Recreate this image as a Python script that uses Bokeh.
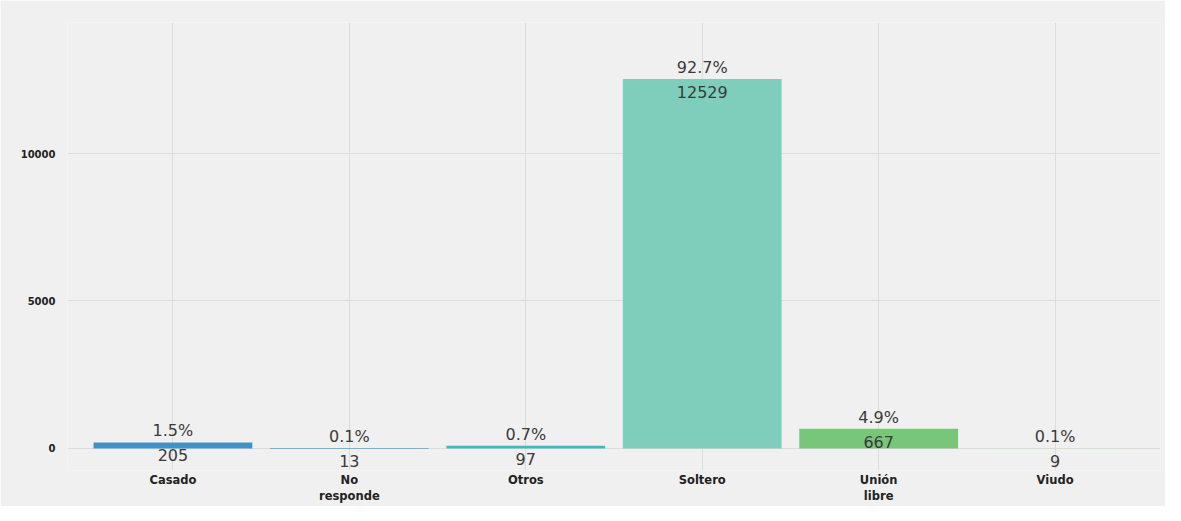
from bokeh.plotting import figure
from bokeh.models import ColumnDataSource, FactorRange, Range1d, FixedTicker
from bokeh.core.properties import value
from bokeh.embed import file_html
from bokeh.resources import INLINE

categories = ["Casado", "No responde", "Otros", "Soltero", "Unión libre", "Viudo"]
counts = [205, 13, 97, 12529, 667, 9]
percents = ["1.5%", "0.1%", "0.7%", "92.7%", "4.9%", "0.1%"]
colors = ["#4191c6", "#2c7fb8", "#41b6c4", "#7fcdbb", "#78c679", "#c7e9b4"]
y_ticks = [0, 5000, 10000]

# two-line tick labels as in the original
factors = [c.replace(" ", "\n") for c in categories]

src = ColumnDataSource(dict(cat=factors, n=counts, pct=percents, color=colors,
                            nlab=[str(c) for c in counts]))

p = figure(frame_width=1093, frame_height=448, output_backend="svg", toolbar_location=None,
           x_range=FactorRange(*factors, range_padding=0.0325),
           y_range=Range1d(-746, 14441),
           min_border_left=67, min_border_right=5, min_border_top=22, min_border_bottom=10)

p.background_fill_color = "#f0f0f0"
p.border_fill_color = "#f0f0f0"
p.outline_line_color = None

p.vbar(x="cat", top="n", bottom=0, width=0.9, fill_color="color", line_color=None, source=src)

p.text(x="cat", y="n", text="pct", source=src, text_align="center", text_baseline="bottom",
       y_offset=-2, text_font=value("DejaVu Sans"), text_font_size="16px", text_color="#3a3a3a")
p.text(x="cat", y="n", text="nlab", source=src, text_align="center", text_baseline="top",
       y_offset=7, text_font=value("DejaVu Sans"), text_font_size="16px", text_color="#3a3a3a")

for ax in (p.xaxis[0], p.yaxis[0]):
    ax.axis_line_color = None
    ax.major_tick_line_color = None
    ax.minor_tick_line_color = None
    ax.major_label_text_font = "DejaVu Sans"
    ax.major_label_text_font_style = "bold"
    ax.major_label_text_color = "#222222"

p.yaxis[0].ticker = FixedTicker(ticks=y_ticks)
p.yaxis[0].major_label_text_font_size = "10px"
p.yaxis[0].major_label_standoff = 6
p.xaxis[0].major_label_text_font_size = "11.5px"
p.xaxis[0].major_label_standoff = -4

p.xgrid.grid_line_color = "#dcdcdc"
p.ygrid.grid_line_color = "#dcdcdc"

open("out.html", "w").write(file_html(p, INLINE))
